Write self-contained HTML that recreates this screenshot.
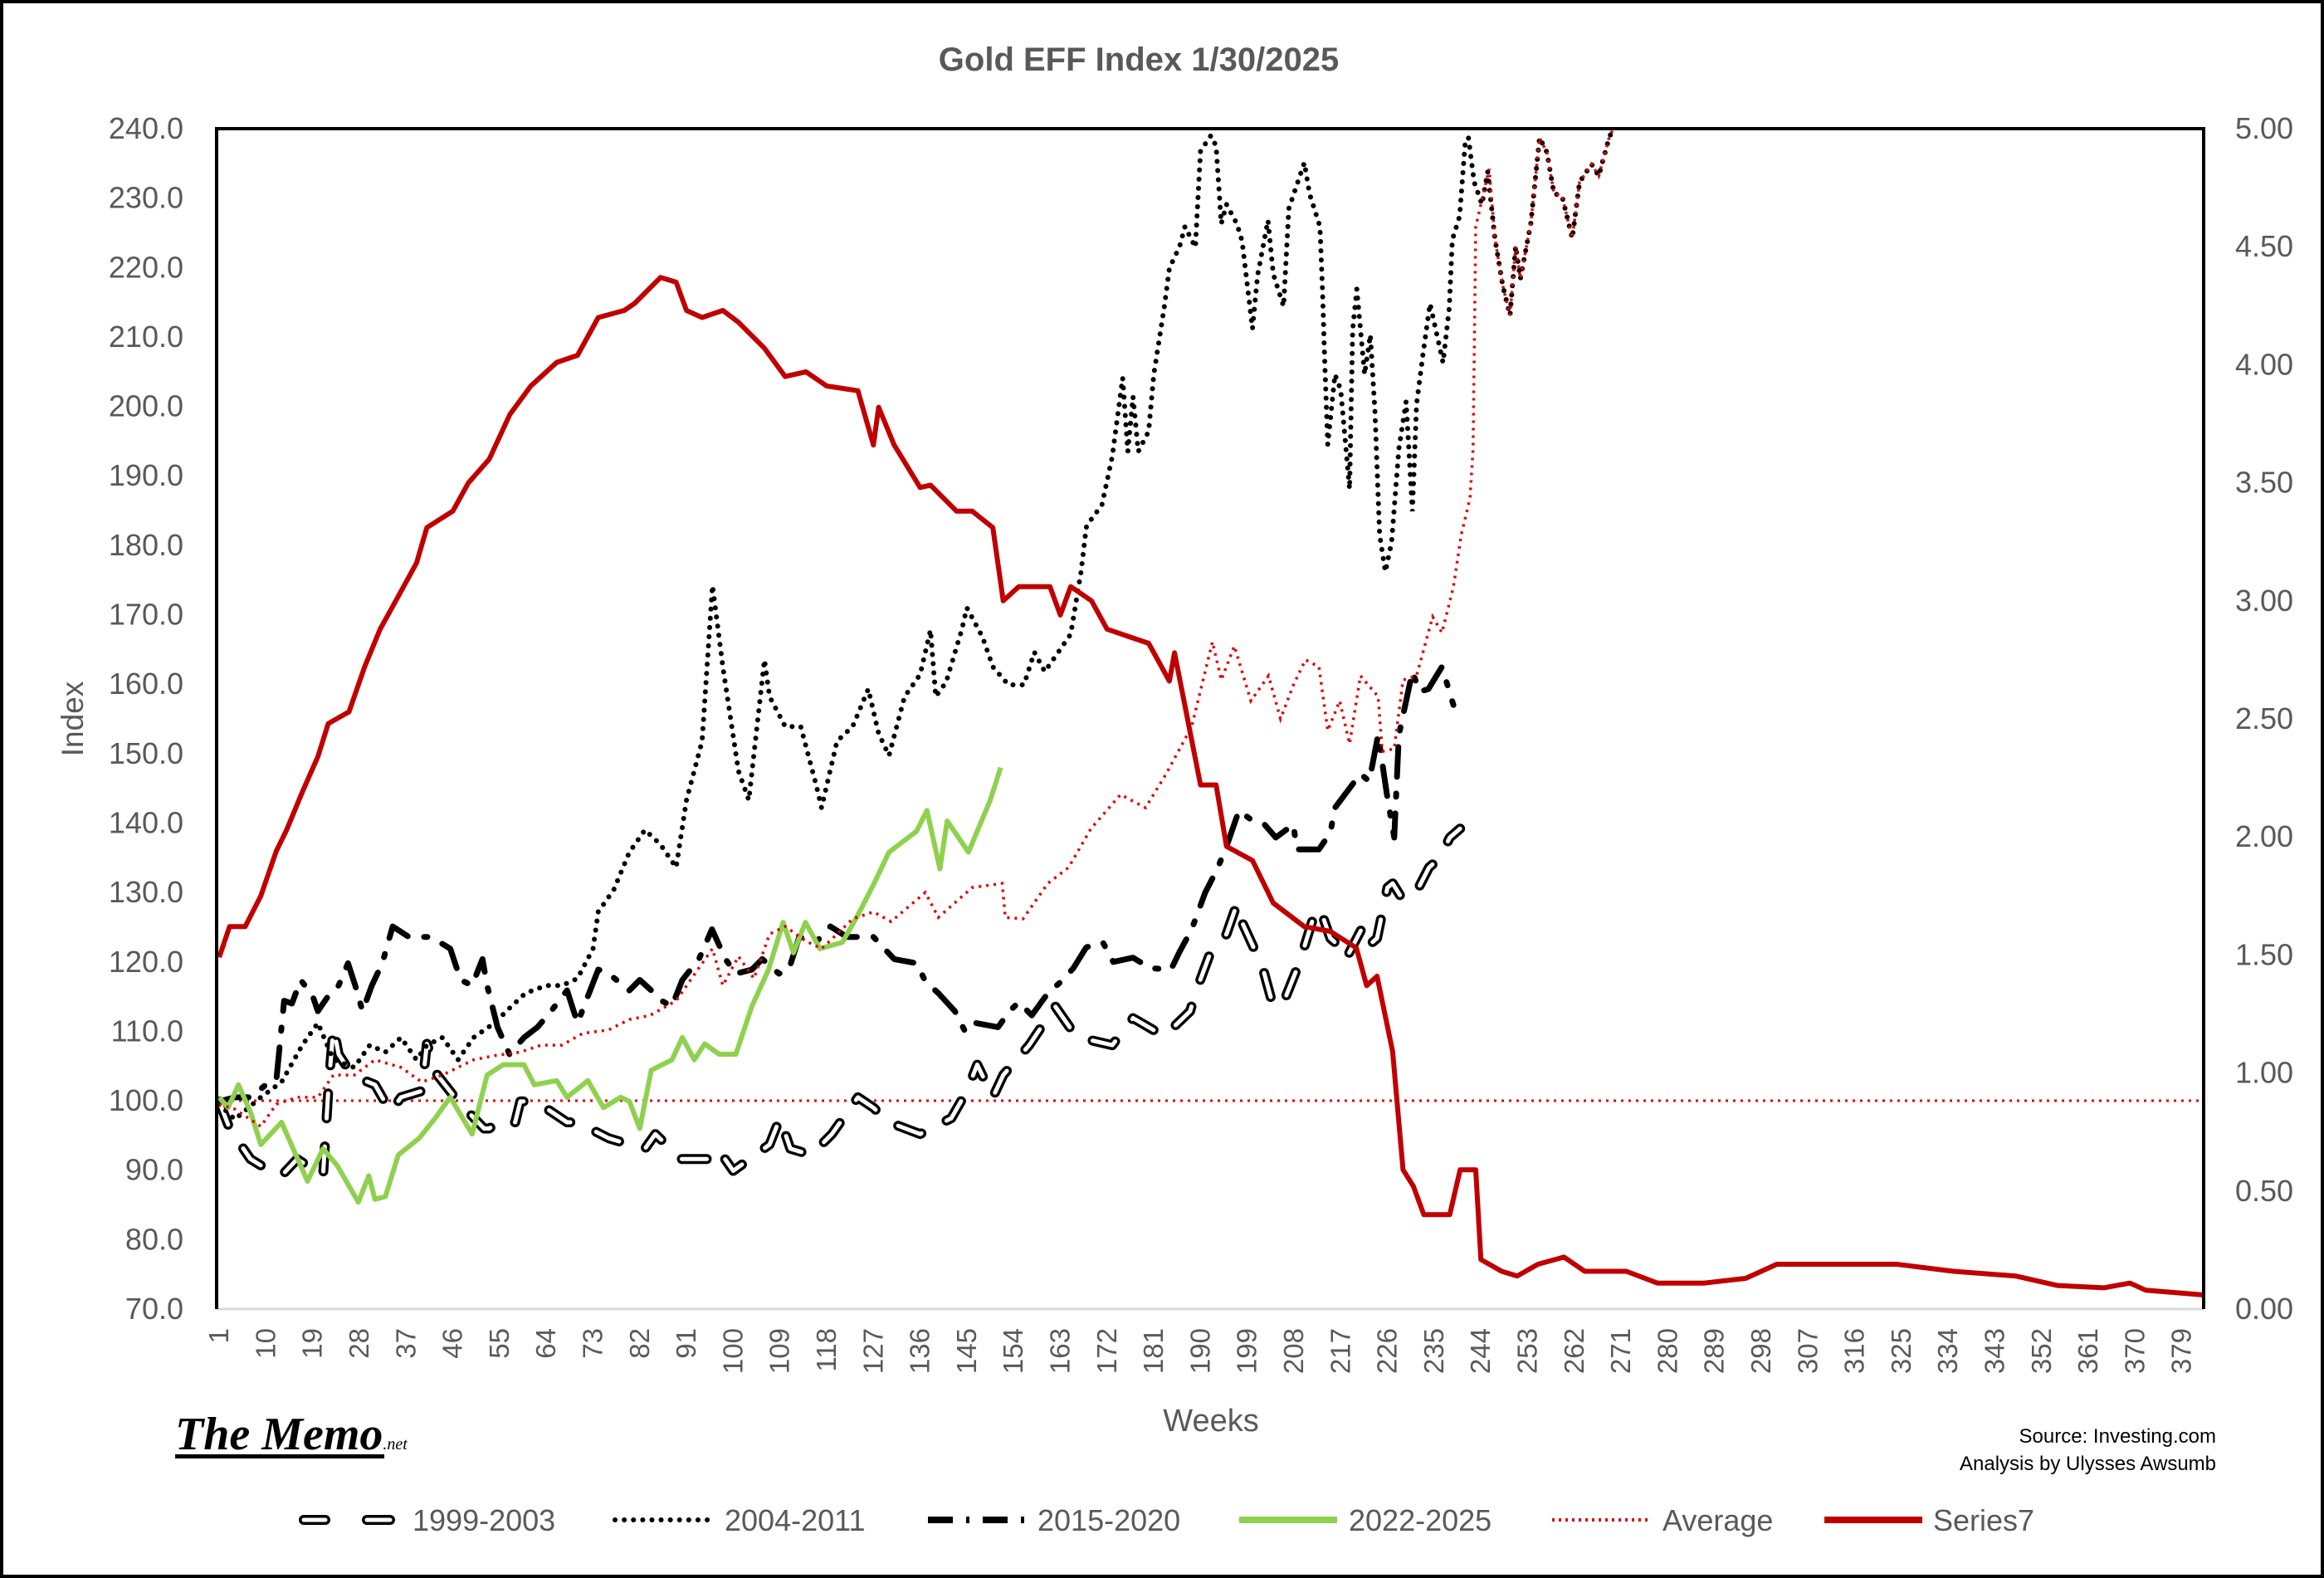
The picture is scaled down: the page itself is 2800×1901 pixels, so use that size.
<!DOCTYPE html>
<html><head><meta charset="utf-8"><title>Gold EFF Index 1/30/2025</title>
<style>
html,body{margin:0;padding:0;background:#fff;}
svg{display:block;}
text{font-family:"Liberation Sans",Arial,sans-serif;}
</style></head>
<body>
<svg id="chart" width="2800" height="1901" viewBox="0 0 2800 1901" xmlns="http://www.w3.org/2000/svg">
<rect x="2" y="2" width="2796" height="1897" fill="#fff" stroke="#000" stroke-width="4"/>
<text x="1372" y="85" text-anchor="middle" font-size="40" font-weight="bold" fill="#595959">Gold EFF Index 1/30/2025</text>
<g id="plot"></g>
<g id="axes"></g>
<text transform="translate(100,866) rotate(-90)" text-anchor="middle" font-size="37" fill="#595959">Index</text>
<text x="1459" y="1724" text-anchor="middle" font-size="38" fill="#595959">Weeks</text>
<g>
<text x="211" y="1746" style="font-family:'Liberation Serif',serif;font-style:italic;font-weight:bold;" font-size="56" fill="#000">The Memo<tspan font-size="20" font-weight="normal">.net</tspan></text>
<rect x="211" y="1752" width="252" height="5" fill="#000"/>
</g>
<text x="2670" y="1738" text-anchor="end" font-size="24" fill="#000">Source: Investing.com</text>
<text x="2670" y="1771" text-anchor="end" font-size="24" fill="#000">Analysis by Ulysses Awsumb</text>
<g id="legend"></g>
</svg>
<script>
// ---- data ----
const xTickLabels = [1,10,19,28,37,46,55,64,73,82,91,100,109,118,127,136,145,154,163,172,181,190,199,208,217,226,235,244,253,262,271,280,289,298,307,316,325,334,343,352,361,370,379];
const yTickLabels = [70,80,90,100,110,120,130,140,150,160,170,180,190,200,210,220,230,240];
const y2TickLabels = [0,0.5,1,1.5,2,2.5,3,3.5,4,4.5,5];
const seriesNames = ["1999-2003","2004-2011","2015-2020","2022-2025","Average","Series7"];

const w1999 = [1,3,7,9,13,16,21,22,23,24,26,29,31,34,36,40,41,43,47,52,53,56,58,59,62,68,70,76,80,83,85,90,95,97,100,107,109,111,115,119,124,127,130,136,142,145,147,150,152,157,162,166,169,173,177,183,188,189,192,195,197,198,201,202,204,206,209,212,213,215,217,218,221,222,224,226,227,229,232,234,236,238,240];
const v1999 = [99.9,96.0,91.6,90.7,89.2,91.6,89.2,101.4,110.6,106.7,104.4,102.9,102.3,98.4,100.5,101.4,108.2,103.7,99.9,96.0,96.0,97.5,96.9,99.9,99.9,96.9,96.9,94.6,93.7,93.1,95.2,91.6,91.6,93.1,89.9,93.7,97.5,93.1,92.2,95.2,100.5,99.0,96.9,95.2,97.5,101.4,105.2,100.5,103.7,108.0,113.6,109.3,108.7,108.0,111.9,109.3,112.9,115.5,121.5,124.0,128.3,125.7,120.8,119.1,113.6,114.2,119.8,127.0,127.7,123.4,122.1,120.4,124.7,122.1,123.4,130.7,131.3,128.9,130.7,133.6,134.9,137.9,139.2];

const w2004 = [1,4,9,13,17,20,23,27,30,33,36,39,41,44,47,50,54,57,60,64,67,70,73,74,77,80,83,86,89,91,94,96,98,101,103,106,107,110,113,116,117,120,123,126,128,130,133,136,138,139,141,144,145,148,150,153,156,158,160,165,167,168,169,171,173,175,176,177,178,180,181,183,184,186,187,189,190,192,193,194,195,197,198,200,201,203,204,206,207,210,211,213,213.5,213.9,214.5,215.9,217,218.7,219.3,220.1,221.6,222.7,223.6,224.5,225.6,226.8,228.2,229.6,230.8,231.6,232.8,234.2,236.7,237.9,238.5,239.9,241,241.6,242.7,244.2,245.3,246.7,248.2,249.6,250.7,251.6,253.6,255.3,256.7,258.1,259.6,261.6,263,265.3,266.7,268.7,269.5];
const v2004 = [99.5,97.3,100.5,102.7,108.0,111.2,105.9,104.8,108.0,107.0,109.1,105.9,108.0,109.1,105.9,109.1,111.2,113.4,115.5,116.6,116.6,117.6,121.9,127.2,130.4,135.8,139.0,136.9,133.6,143.3,151.8,174.2,162.5,147.5,143.3,163.5,158.2,153.9,153.9,145.4,142.2,151.8,153.9,159.3,152.9,149.7,158.2,161.4,167.8,158.2,160.3,167.8,171.0,166.8,162.5,159.9,159.9,164.6,161.8,167.2,176.2,182.6,183.8,185.8,192.8,204.1,193.5,201.4,193.5,196.4,204.6,214.2,219.9,223.1,225.9,222.9,236.8,239.0,237.5,226.3,229.1,226.3,223.8,211.2,218.9,226.8,219.1,214.4,228.5,235.1,230.6,225.9,216.7,207.1,194.5,204.6,202.4,188.1,211.0,216.9,204.6,210.3,199.2,181.5,176.2,180.4,193.9,200.7,184.9,200.3,207.3,214.8,206.3,214.2,224.0,227.4,238.3,238.7,232.3,229.1,233.8,224.2,217.4,213.1,223.1,218.4,226.3,238.7,236.6,230.6,230.4,224.2,232.3,234.9,233.2,238.7,240.0];

const w2015 = [1,4,7,10,12,13.5,15,16.7,19,20,22,24,25.8,27.2,28.6,30.4,32.4,34.4,37.5,41.5,43.5,45.5,47.5,49.7,51.7,52.6,54.6,56.9,59.7,62.3,64.9,68,70,74,76,80,82,84.2,86.2,88.2,90.2,93.4,95.9,98.5,100.5,103.6,105.6,108.8,110.7,112.7,115.9,118.7,121.9,125,127,131,135.3,137,139.5,142.7,144.7,146.7,151,153.2,155,157.5,160.6,163.2,165.5,168,171.2,173.2,177,180.3,184.3,186,188.3,190.9,193.1,194.8,197.4,199.7,202.3,204.5,207.9,208.5,212.8,215,215.9,218.5,220.8,222.5,224.2,225.9,227.3,228.2,230.8,232.2,233.9,236.5,238.7];
const v2015 = [99.9,100.5,100.5,102.3,102.9,114.4,114.0,117.4,115.1,112.9,115.1,116.6,119.8,116.6,112.9,116.6,119.8,125.1,123.6,123.6,122.8,121.9,117.4,116.6,120.4,116.6,110.6,106.7,109.1,110.6,112.9,115.9,111.2,118.9,118.3,115.9,117.4,115.9,114.4,113.6,117.4,120.4,124.7,120.4,118.3,118.9,120.4,118.3,118.9,123.6,122.8,125.1,123.6,123.6,123.6,120.4,119.8,117.2,115.5,112.9,109.9,111.2,110.6,112.9,114.2,112.3,115.5,117.2,119.1,122.1,122.8,120.0,120.6,119.1,118.9,121.5,124.7,130.0,133.2,136.2,141.8,140.5,139.8,137.9,139.8,136.2,136.2,138.6,142.2,144.8,147.1,146.0,152.7,144.1,137.9,152.7,161.8,158.9,159.3,162.5,157.0];

const w2022 = [1,2.7,4.7,7,9,13,18,21,23.7,27.8,29.8,31,33,35.5,39.5,42.6,45.5,49.7,52.6,55.7,59.7,61.7,66,68,72,75,78.3,80,82,84.2,88.2,90.2,92.5,94.5,97.3,100.5,103.6,106.8,109.6,111.6,113.9,116.7,121,123.9,127,130,135.3,137.3,139.8,141.2,145.3,149.5,151.5];
const v2022 = [100.5,99.0,102.3,98.4,93.7,96.9,88.4,93.1,90.7,85.4,89.2,85.8,86.2,92.2,94.6,97.5,100.5,95.2,103.7,105.2,105.2,102.3,102.9,100.5,102.9,99.0,100.5,99.9,96.0,104.4,105.9,109.1,105.9,108.2,106.7,106.7,113.6,118.9,125.7,121.3,125.7,121.9,122.8,126.6,131.1,135.8,138.8,141.8,133.4,140.3,135.8,143.3,148.0];

const wAvg = [1,4,9,12,16,20,23,27,31,36,40,44,47,50,54,59,63,67,71,76,80,84,89,93,96,98,101,104,107,110,114,117,120,123,127,130.4,137,139.5,146,151.8,152.4,155.8,160.6,164.6,168.9,174.6,179.4,183.4,188.3,192.3,194,196.5,199.7,203.1,205.4,207.9,210.2,212.8,214.5,216.8,218.7,220.8,224.2,225,227.3,229,231.6,234.7,236.5,238.7,240.2,241.9,242.5,243,245.6,246.7,248.2,249.6,250.7,251.6,253.6,255.3,256.7,258.1,259.6,261.6,263,265.3,266.7,268.7,269.5];
const vAvg = [99.5,98.8,96.3,99.5,100.5,100.5,103.7,103.7,105.9,104.8,102.7,103.7,104.8,105.9,106.5,107.0,108.0,108.0,109.7,110.2,111.7,112.3,114.4,118.7,121.9,116.6,120.8,117.6,124.0,125.1,123.0,121.9,124.0,126.2,127.2,125.8,130.0,126.4,130.7,131.3,126.4,126.2,131.3,133.6,139.2,144.1,142.2,147.1,153.9,166.1,160.6,165.5,157.6,161.2,155.0,159.9,163.5,162.5,153.3,157.6,151.4,161.2,158.2,150.3,150.7,160.6,161.2,169.7,167.4,174.0,181.5,186.8,193.9,225.9,234.2,224.2,217.4,213.1,223.1,218.4,226.3,238.7,236.6,230.6,230.4,224.2,232.3,234.9,233.2,238.7,240.0];

const wS7 = [1,3,6,9,12,14,17,20,22,26,29,32,36,39,41,46,49,53,57,61,66,70,74,79,81,86,89,91,94,98,101,106,110,114,118,124,127,128,131,136,138,143,146,150,152,155,161,163,165,169,172,176,180,184,185,190,193,195,200,204,210,215,220,222,224,227,229,231,233,238,240,243,244,248,251,255,260,264,272,278,287,295,301,315,324,335,347,355,364,369,372,383];
const vS7 = [1.49,1.62,1.62,1.75,1.94,2.03,2.19,2.34,2.48,2.53,2.72,2.88,3.04,3.16,3.31,3.38,3.5,3.6,3.79,3.91,4.01,4.04,4.2,4.23,4.26,4.37,4.35,4.23,4.2,4.23,4.18,4.07,3.95,3.97,3.91,3.89,3.66,3.82,3.66,3.48,3.49,3.38,3.38,3.31,3.0,3.06,3.06,2.94,3.06,3.0,2.88,2.85,2.82,2.66,2.78,2.22,2.22,1.96,1.9,1.72,1.62,1.6,1.53,1.37,1.41,1.09,0.59,0.52,0.4,0.4,0.59,0.59,0.21,0.16,0.14,0.19,0.22,0.16,0.16,0.11,0.11,0.13,0.19,0.19,0.19,0.16,0.14,0.1,0.09,0.11,0.08,0.06];

// ---- layout ----
const L=261, R=2655, T=155, B=1577;
const W0=0.5, W1=383.2;
const xs = w => L + (w-W0)/(W1-W0)*(R-L);
const ys = v => B - (v-70)/(240-70)*(B-T);
const ys2 = v => B - v/5*(B-T);
const NS="http://www.w3.org/2000/svg";
function mk(tag, attrs, parent){const e=document.createElementNS(NS,tag);for(const k in attrs)e.setAttribute(k,attrs[k]);parent.appendChild(e);return e;}
const plot=document.getElementById('plot'), axes=document.getElementById('axes'), legend=document.getElementById('legend');

const defs=mk('defs',{},plot);
const cp=mk('clipPath',{id:'clip'},defs);
mk('rect',{x:L,y:T-4,width:R-L,height:B-T+4},cp);

const frameB=mk('line',{x1:L,y1:B,x2:R,y2:B,stroke:'#d9d9d9','stroke-width':3},axes);


const frame=mk('polyline',{points:`${L},${B} ${L},${T} ${R},${T} ${R},${B}`,fill:'none',stroke:'#000','stroke-width':4},axes);



yTickLabels.forEach(v=>{
  const t=mk('text',{x:221,y:ys(v)+12,'text-anchor':'end','font-size':36,fill:'#595959'},axes);
  t.textContent=v.toFixed(1);
  
  
});
y2TickLabels.forEach(v=>{
  const t=mk('text',{x:2693,y:ys2(v)+12,'text-anchor':'start','font-size':36,fill:'#595959'},axes);
  t.textContent=v.toFixed(2);
  
  
});
xTickLabels.forEach(w=>{
  const x=xs(w);
  const t=mk('text',{transform:`translate(${x+11},1600) rotate(-90)`,'text-anchor':'end','font-size':33,fill:'#595959'},axes);
  t.textContent=String(w);
  
  
});

function pts(wa,va,yf){return wa.map((w,i)=>xs(w).toFixed(1)+','+yf(va[i]).toFixed(1)).join(' ');}
const g=mk('g',{'clip-path':'url(#clip)'},plot);

const base=mk('line',{x1:L,y1:ys(100),x2:R,y2:ys(100),stroke:'#e00000','stroke-width':3,'stroke-dasharray':'3 6'},g);



const s1a=mk('polyline',{points:pts(w1999,v1999,ys),fill:'none',stroke:'#000','stroke-width':12,'stroke-dasharray':'30 34','stroke-linecap':'round','stroke-linejoin':'round'},g);


const s1b=mk('polyline',{points:pts(w1999,v1999,ys),fill:'none',stroke:'#fff','stroke-width':5,'stroke-dasharray':'30 34','stroke-linecap':'round','stroke-linejoin':'round'},g);



const s2=mk('polyline',{points:pts(w2004,v2004,ys),fill:'none',stroke:'#000','stroke-width':6,'stroke-dasharray':'0.1 11','stroke-linecap':'round'},g);



const s3=mk('polyline',{points:pts(w2015,v2015,ys),fill:'none',stroke:'#000','stroke-width':7,'stroke-dasharray':'36 20 4 20','stroke-linecap':'round','stroke-linejoin':'round'},g);



const s4=mk('polyline',{points:pts(w2022,v2022,ys),fill:'none',stroke:'#8fd14f','stroke-width':6,'stroke-linejoin':'round'},g);



const s5=mk('polyline',{points:pts(wAvg,vAvg,ys),fill:'none',stroke:'#e00000','stroke-width':3.5,'stroke-dasharray':'3 6'},g);



const s6=mk('polyline',{points:pts(wS7,vS7,ys2),fill:'none',stroke:'#c00000','stroke-width':6,'stroke-linejoin':'round'},g);



const legY=1831;
const legX=[362,741,1118,1493,1870,2198];
const legT=[497,873,1250,1625,2003,2329];
const lstyles=[
 null,
 {stroke:'#000','stroke-width':6,'stroke-dasharray':'0.1 11','stroke-linecap':'round'},
 {stroke:'#000','stroke-width':8,'stroke-dasharray':'30 16 4 16'},
 {stroke:'#8fd14f','stroke-width':8},
 {stroke:'#e00000','stroke-width':4,'stroke-dasharray':'3 5'},
 {stroke:'#c00000','stroke-width':8}
];
seriesNames.forEach((n,i)=>{
  const eg=mk('g',{},legend);
  
  
  if(i===0){
    mk('line',{x1:legX[0]+4,y1:legY,x2:legX[0]+30,y2:legY,stroke:'#000','stroke-width':12,'stroke-linecap':'round'},eg);
    mk('line',{x1:legX[0]+4,y1:legY,x2:legX[0]+30,y2:legY,stroke:'#fff','stroke-width':5,'stroke-linecap':'round'},eg);
    mk('line',{x1:legX[0]+80,y1:legY,x2:legX[0]+108,y2:legY,stroke:'#000','stroke-width':12,'stroke-linecap':'round'},eg);
    mk('line',{x1:legX[0]+80,y1:legY,x2:legX[0]+108,y2:legY,stroke:'#fff','stroke-width':5,'stroke-linecap':'round'},eg);
  } else {
    const a=Object.assign({x1:legX[i],y1:legY,x2:legX[i]+118,y2:legY},lstyles[i]);
    mk('line',a,eg);
  }
  const t=mk('text',{x:legT[i],y:legY+13,'font-size':36,fill:'#595959'},eg);
  t.textContent=n;
});
</script>
</body></html>
